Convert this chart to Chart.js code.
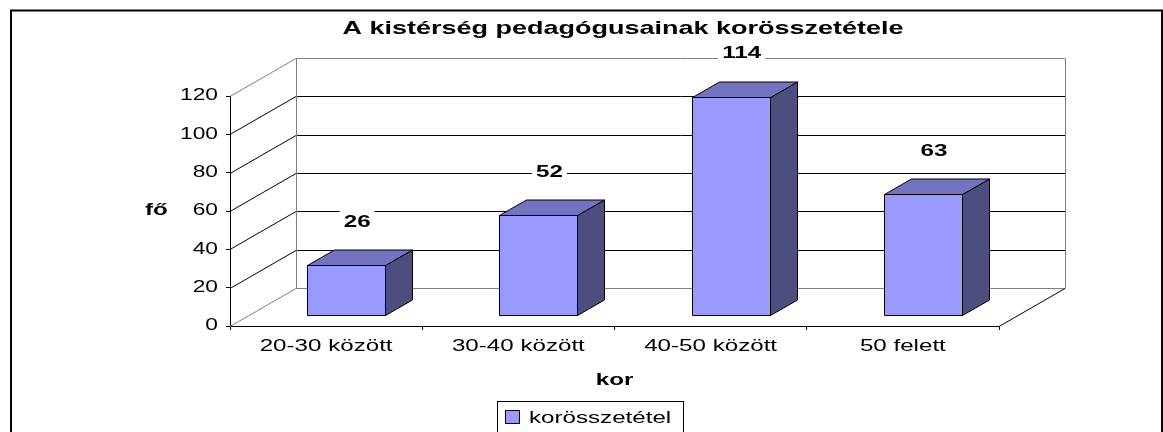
<!DOCTYPE html>
<html><head><meta charset="utf-8">
<script src="https://cdn.jsdelivr.net/npm/chart.js@4"></script>
<style>html,body{margin:0;padding:0;background:#fff;overflow:hidden}canvas{display:block}</style>
</head><body>
<canvas id="c" width="1163" height="432"></canvas>
<script>
const chartTitle = 'A kistérség pedagógusainak korösszetétele';
const categories = ['20-30 között', '30-40 között', '40-50 között', '50 felett'];
const values = [26, 52, 114, 63];
const seriesName = 'korösszetétel';
const xAxisTitle = 'kor';
const yAxisTitle = 'fő';
const yMin = 0, yMax = 120, yStep = 20;

// horizontal text stretch (reference text is horizontally stretched)
const SX = 1.42;
const proto = CanvasRenderingContext2D.prototype;
const oFill = proto.fillText, oMeasure = proto.measureText;
proto.fillText = function (t, x, y) {
  this.save(); this.translate(x, y); this.scale(SX, 1); oFill.call(this, t, 0, 0); this.restore();
};
proto.measureText = function (t) {
  const m = oMeasure.call(this, t);
  return {
    width: m.width * SX,
    actualBoundingBoxAscent: m.actualBoundingBoxAscent,
    actualBoundingBoxDescent: m.actualBoundingBoxDescent,
    actualBoundingBoxLeft: m.actualBoundingBoxLeft * SX,
    actualBoundingBoxRight: m.actualBoundingBoxRight * SX,
    fontBoundingBoxAscent: m.fontBoundingBoxAscent,
    fontBoundingBoxDescent: m.fontBoundingBoxDescent
  };
};

const FONT = '"Liberation Sans", Arial, sans-serif';
const FRONT = '#9999FF', TOP = '#7373BF', SIDE = '#4D4D80';
const DX = 66, DY = -38;      // back wall offset
const FX = 20, FY = -11;      // bar front plane offset
const BX = 27, BY = -15.5;    // bar depth

function line(ctx, x1, y1, x2, y2, c, w) {
  ctx.beginPath(); ctx.moveTo(x1, y1); ctx.lineTo(x2, y2);
  ctx.strokeStyle = c; ctx.lineWidth = w || 1; ctx.stroke();
}

const plugin3d = {
  id: 'p3d',
  beforeDatasetsDraw(chart) {
    const ctx = chart.ctx, a = chart.chartArea, ys = chart.scales.y;
    const L = a.left, R = a.right;
    ctx.save();
    for (let v = yMin; v <= yMax; v += yStep) {
      const y = Math.round(ys.getPixelForValue(v)) + 0.5;
      const edge = (v === yMin || v === yMax);
      const c = edge ? '#808080' : '#000';
      line(ctx, L + DX, y + DY, R + DX, y + DY, c);
      line(ctx, L, y, L + DX, y + DY, c);
    }
    const yt = Math.round(ys.getPixelForValue(yMax)) + 0.5 + DY;
    const yb = Math.round(ys.getPixelForValue(yMin)) + 0.5 + DY;
    line(ctx, L + DX + 0.5, yt, L + DX + 0.5, yb, '#808080');
    line(ctx, R + DX + 0.5, yt, R + DX + 0.5, yb, '#808080');
    const y0 = Math.round(ys.getPixelForValue(yMin)) + 0.5;
    line(ctx, R, y0, R + DX, y0 + DY, '#000');

    const meta = chart.getDatasetMeta(0);
    meta.data.forEach(el => {
      const x0 = Math.round(el.x - el.width / 2 + FX) + 0.5;
      const x1 = Math.round(el.x + el.width / 2 + FX) + 0.5;
      const t = Math.round(el.y + FY) + 0.5;
      const b = Math.round(el.base + FY) + 0.5;
      ctx.lineWidth = 1; ctx.strokeStyle = '#000'; ctx.lineJoin = 'miter';
      // side
      ctx.beginPath();
      ctx.moveTo(x1, t); ctx.lineTo(x1 + BX, t + BY); ctx.lineTo(x1 + BX, b + BY); ctx.lineTo(x1, b); ctx.closePath();
      ctx.fillStyle = SIDE; ctx.fill(); ctx.stroke();
      // top
      ctx.beginPath();
      ctx.moveTo(x0, t); ctx.lineTo(x0 + BX, t + BY); ctx.lineTo(x1 + BX, t + BY); ctx.lineTo(x1, t); ctx.closePath();
      ctx.fillStyle = TOP; ctx.fill(); ctx.stroke();
      // front
      ctx.beginPath(); ctx.rect(x0, t, x1 - x0, b - t);
      ctx.fillStyle = FRONT; ctx.fill(); ctx.stroke();
    });
    ctx.restore();
    return false;
  },
  afterDraw(chart) {
    const ctx = chart.ctx, a = chart.chartArea;
    ctx.save();
    // data labels
    const meta = chart.getDatasetMeta(0);
    ctx.font = 'bold 17px ' + FONT;
    ctx.textAlign = 'center'; ctx.textBaseline = 'middle';
    meta.data.forEach((el, i) => {
      const txt = String(values[i]);
      const cx = el.x + FX + 11, cy = el.y + FY - 44;
      const w = ctx.measureText(txt).width + 8;
      ctx.fillStyle = '#fff';
      ctx.fillRect(cx - w / 2, cy - 12, w, 24);
      ctx.fillStyle = '#000';
      ctx.fillText(txt, cx, cy + 1);
    });
    // title
    ctx.font = 'bold 19px ' + FONT;
    ctx.textBaseline = 'alphabetic'; ctx.textAlign = 'center';
    ctx.fillText(chartTitle, 623, 34);
    // axis titles
    ctx.font = 'bold 17px ' + FONT;
    ctx.fillText(xAxisTitle, (a.left + a.right) / 2, 385);
    ctx.textAlign = 'left';
    ctx.fillText(yAxisTitle, 145, 215);
    // legend
    ctx.strokeStyle = '#000'; ctx.lineWidth = 1;
    ctx.strokeRect(497.5, 401.5, 186, 40);
    ctx.fillStyle = FRONT;
    ctx.fillRect(505.5, 410.5, 14, 13);
    ctx.strokeRect(505.5, 410.5, 14, 13);
    ctx.fillStyle = '#000';
    ctx.font = '17px ' + FONT;
    ctx.fillText(seriesName, 529, 423);
    // outer frame
    line(ctx, 10, 10.5, 1163, 10.5, '#000', 2);
    line(ctx, 11, 10, 11, 432, '#000', 2);
    line(ctx, 1162, 10, 1162, 432, '#000', 2);
    ctx.restore();
  }
};

new Chart(document.getElementById('c'), {
  type: 'bar',
  data: {
    labels: categories,
    datasets: [{ label: seriesName, data: values, backgroundColor: FRONT, borderColor: '#000',
      categoryPercentage: 1, barPercentage: 0.406 }]
  },
  options: {
    responsive: false, animation: false,
    layout: { padding: { left: 0, right: 164, top: 96, bottom: 0 } },
    plugins: { legend: { display: false }, title: { display: false }, tooltip: { enabled: false } },
    scales: {
      x: {
        type: 'category', offset: true,
        grid: { offset: true, drawOnChartArea: false, drawTicks: true, tickLength: 4, color: '#000' },
        border: { display: true, color: '#000', width: 1 },
        ticks: { color: '#000', font: { family: FONT, size: 17 }, padding: 6, autoSkip: false, maxRotation: 0 },
        afterFit(s) { s.height = 106; }
      },
      y: {
        min: yMin, max: yMax,
        grid: { drawOnChartArea: false, drawTicks: true, tickLength: 4, color: '#000' },
        border: { display: true, color: '#000', width: 1 },
        ticks: { stepSize: yStep, color: '#000', font: { family: FONT, size: 16 }, padding: 8 },
        afterFit(s) { s.width = 230; }
      }
    }
  },
  plugins: [plugin3d]
});
</script>
</body></html>
